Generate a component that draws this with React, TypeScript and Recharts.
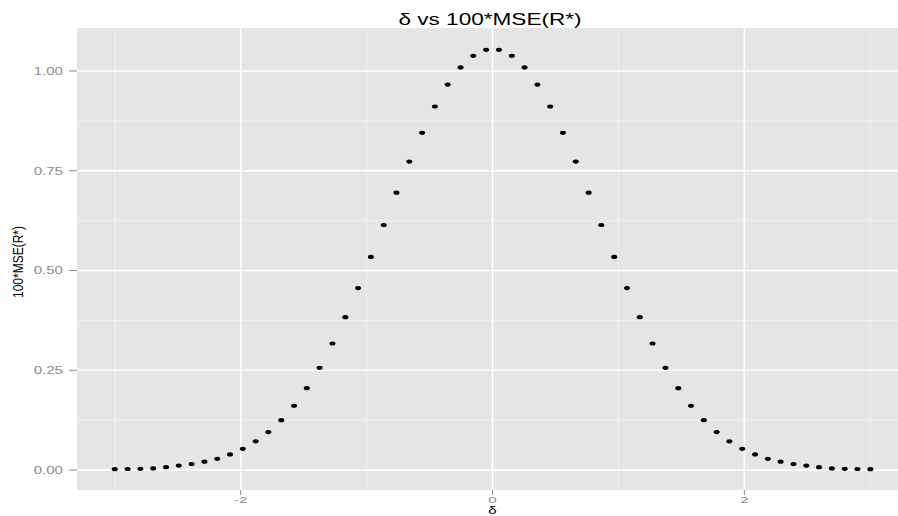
import React from 'react';
import { ScatterChart, Scatter, XAxis, YAxis, CartesianGrid } from 'recharts';

const deltaValues = [
  -3.0, -2.898, -2.797, -2.695, -2.593, -2.492, -2.39, -2.288, -2.186, -2.085,
  -1.983, -1.881, -1.78, -1.678, -1.576, -1.475, -1.373, -1.271, -1.169, -1.068,
  -0.966, -0.864, -0.763, -0.661, -0.559, -0.458, -0.356, -0.254, -0.153, -0.051,
  0.051, 0.153, 0.254, 0.356, 0.458, 0.559, 0.661, 0.763, 0.864, 0.966,
  1.068, 1.169, 1.271, 1.373, 1.475, 1.576, 1.678, 1.78, 1.881, 1.983,
  2.085, 2.186, 2.288, 2.39, 2.492, 2.593, 2.695, 2.797, 2.898, 3.0,
];

const mseValues = [
  0.002, 0.0025, 0.003, 0.004, 0.007, 0.011, 0.015, 0.021, 0.028, 0.039,
  0.053, 0.072, 0.095, 0.125, 0.161, 0.205, 0.256, 0.317, 0.383, 0.456,
  0.534, 0.614, 0.695, 0.773, 0.845, 0.911, 0.966, 1.009, 1.038, 1.053,
  1.053, 1.038, 1.009, 0.966, 0.911, 0.845, 0.773, 0.695, 0.614, 0.534,
  0.456, 0.383, 0.317, 0.256, 0.205, 0.161, 0.125, 0.095, 0.072, 0.053,
  0.039, 0.028, 0.021, 0.015, 0.011, 0.007, 0.004, 0.003, 0.0025, 0.002,
];

const xTicks = [-2, 0, 2];
const xMinor = [-3, -1, 1, 3];
const yTicks = [0, 0.25, 0.5, 0.75, 1.0];
const yMinor = [0.125, 0.375, 0.625, 0.875];

const titleText = 'δ vs 100*MSE(R*)';
const xLabelText = 'δ';
const yLabelText = '100*MSE(R*)';

const data = deltaValues.map((d, i) => ({ x: d, y: mseValues[i] }));

const FONT = '"Liberation Sans", Arial, sans-serif';
const STRETCH = 1.37;

const XTick = (props: any) => {
  const { x, y, payload } = props;
  return (
    <text
      transform={`translate(${x},${y}) scale(${STRETCH},0.9)`}
      textAnchor="middle"
      dy="0.71em"
      fontSize={11}
      fontFamily={FONT}
      fill="#8C8C8C"
    >
      {payload.value}
    </text>
  );
};

const YTick = (props: any) => {
  const { x, y, payload } = props;
  return (
    <text
      transform={`translate(${x},${y}) scale(${STRETCH},1)`}
      textAnchor="end"
      dy="0.35em"
      fontSize={11}
      fontFamily={FONT}
      fill="#8C8C8C"
    >
      {Number(payload.value).toFixed(2)}
    </text>
  );
};

const Dot = (props: any) => {
  const { cx, cy } = props;
  if (cx == null || cy == null) return null;
  return <ellipse cx={cx} cy={cy} rx={3} ry={2.1} fill="#000" />;
};

const YLabel = (props: any) => {
  const vb = props.viewBox || {};
  const cy = (vb.y ?? 28) + (vb.height ?? 462) / 2 + 3;
  return (
    <text
      transform={`translate(18,${cy}) rotate(-90) scale(1,1.25)`}
      textAnchor="middle"
      dy="0.35em"
      fontSize={12}
      fontFamily={FONT}
      fill="#000"
    >
      {yLabelText}
    </text>
  );
};

const XLabel = (props: any) => {
  const vb = props.viewBox || {};
  const cx = (vb.x ?? 77) + 415.5;
  return (
    <text
      transform={`translate(${cx},514) scale(${STRETCH},0.95)`}
      textAnchor="middle"
      fontSize={11}
      fontFamily={FONT}
      fill="#000"
    >
      {xLabelText}
    </text>
  );
};

export default function App() {
  return (
    <div style={{ position: 'absolute', left: 0, top: 0, width: 898, height: 516, background: '#fff' }}>
      <ScatterChart width={898} height={516} margin={{ top: 28, right: 0, bottom: 0, left: 0 }}>
        <CartesianGrid
          fill="#E5E5E5"
          stroke="#F2F2F2"
          strokeWidth={0.8}
          horizontalValues={yMinor}
          verticalValues={xMinor}
        />
        <CartesianGrid
          stroke="#FFFFFF"
          strokeWidth={1.6}
          fillOpacity={0}
          horizontalValues={yTicks}
          verticalValues={xTicks}
        />
        <XAxis
          type="number"
          dataKey="x"
          domain={[-3.3, 3.22]}
          ticks={xTicks}
          allowDataOverflow
          height={26}
          axisLine={false}
          tickLine={{ stroke: '#8C8C8C' }}
          tickSize={5}
          tickMargin={1}
          tick={<XTick />}
          label={<XLabel />}
        />
        <YAxis
          type="number"
          dataKey="y"
          domain={[-0.0501, 1.1077]}
          ticks={yTicks}
          allowDataOverflow
          width={77}
          axisLine={false}
          tickLine={{ stroke: '#8C8C8C' }}
          tickSize={8}
          tickMargin={6}
          tick={<YTick />}
          label={<YLabel />}
        />
        <Scatter data={data} isAnimationActive={false} shape={<Dot />} />
      </ScatterChart>
      <svg
        width={898}
        height={28}
        style={{ position: 'absolute', left: 0, top: 0, pointerEvents: 'none' }}
      >
        <text
          transform={`translate(490,25) scale(${STRETCH},1)`}
          textAnchor="middle"
          fontSize={16.5}
          fontFamily={FONT}
          fill="#000"
        >
          {titleText}
        </text>
      </svg>
    </div>
  );
}
